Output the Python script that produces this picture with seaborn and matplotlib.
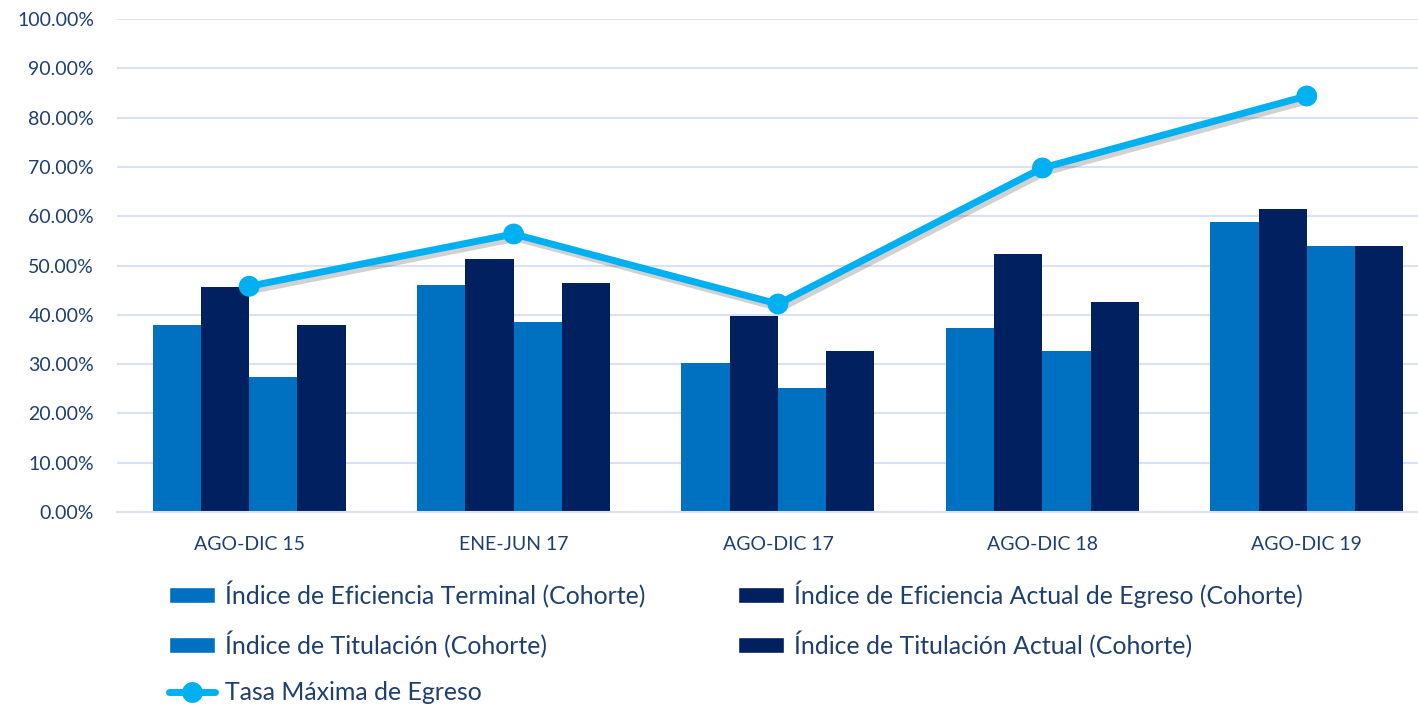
import numpy as np
import pandas as pd
import matplotlib
matplotlib.use('Agg')
import matplotlib.pyplot as plt
import matplotlib.patheffects as pe
from matplotlib.ticker import PercentFormatter
from matplotlib.patches import Patch
from matplotlib.lines import Line2D
import seaborn as sns

# Data (percent)
periodos = ['AGO-DIC 15', 'ENE-JUN 17', 'AGO-DIC 17', 'AGO-DIC 18', 'AGO-DIC 19']
series = ['Índice de Eficiencia Terminal (Cohorte)',
          'Índice de Eficiencia Actual de Egreso (Cohorte)',
          'Índice de Titulación (Cohorte)',
          'Índice de Titulación Actual (Cohorte)']
eficiencia_terminal = [37.9, 46.0, 30.2, 37.3, 58.9]
eficiencia_actual = [45.7, 51.4, 39.8, 52.3, 61.4]
titulacion = [27.3, 38.6, 25.2, 32.7, 54.0]
titulacion_actual = [37.9, 46.4, 32.7, 42.7, 54.0]
tasa_maxima = [45.8, 56.4, 42.2, 69.8, 84.4]
tasa_label = 'Tasa Máxima de Egreso'

valores = [eficiencia_terminal, eficiencia_actual, titulacion, titulacion_actual]
df = pd.DataFrame({
    'periodo': np.repeat([periodos], len(series), axis=0).ravel(),
    'serie': np.repeat(series, len(periodos)),
    'valor': np.concatenate(valores),
})

claro = '#0070C0'
oscuro = '#002060'
cian = '#00B0F0'
texto = '#1F3F6E'
paleta = {series[0]: claro, series[1]: oscuro, series[2]: claro, series[3]: oscuro}

sns.set_style('white')
plt.rcParams['font.family'] = ['Lato', 'DejaVu Sans']

fig = plt.figure(figsize=(14.18, 7.07), dpi=100)
# plot area runs a little past the right edge, like the original
ax = fig.add_axes([0.0825, 0.2758, 0.9323, 0.6972])

sns.barplot(data=df, x='periodo', y='valor', hue='serie', hue_order=series,
            palette=paleta, width=0.73, gap=0, saturation=1, ax=ax,
            edgecolor='none', legend=False, zorder=2)

sns.lineplot(x=np.arange(len(periodos)), y=tasa_maxima, color=cian, linewidth=5,
             marker='o', markersize=15, markeredgewidth=0, ax=ax, zorder=3,
             path_effects=[pe.SimpleLineShadow(offset=(2, -3), alpha=0.18), pe.Normal()])

ax.set_ylim(0, 100)
ax.set_xlim(-0.5, len(periodos) - 0.5)
ax.set_yticks(np.arange(0, 101, 10))
ax.yaxis.set_major_formatter(PercentFormatter(decimals=2))
ax.grid(axis='y', color='#D9E2F3', linewidth=1.5, zorder=0)
ax.set_axisbelow(True)
for s in ['top', 'right', 'left']:
    ax.spines[s].set_visible(False)
ax.spines['bottom'].set_color('#D9E2F3')
ax.spines['bottom'].set_linewidth(1.5)
ax.set_xlabel('')
ax.set_ylabel('')
ax.tick_params(axis='both', length=0, labelsize=14, labelcolor=texto)
ax.tick_params(axis='x', pad=17)
ax.tick_params(axis='y', pad=16.5)

# Legend
h_et = Patch(facecolor=claro, label=series[0])
h_ea = Patch(facecolor=oscuro, label=series[1])
h_ti = Patch(facecolor=claro, label=series[2])
h_ta = Patch(facecolor=oscuro, label=series[3])
h_tm = Line2D([], [], color=cian, linewidth=5, marker='o', markersize=15,
              markeredgewidth=0, label=tasa_label)
leg = fig.legend(handles=[h_et, h_ti, h_tm, h_ea, h_ta], ncol=2,
                 loc='upper left', bbox_to_anchor=(0.1195, 0.179), frameon=False,
                 fontsize=17.9, labelcolor=texto, handlelength=1.85, handleheight=0.6,
                 handletextpad=0.4, columnspacing=3.7, labelspacing=0.92,
                 borderaxespad=0, borderpad=0)

fig.savefig('out.png', dpi=100)
